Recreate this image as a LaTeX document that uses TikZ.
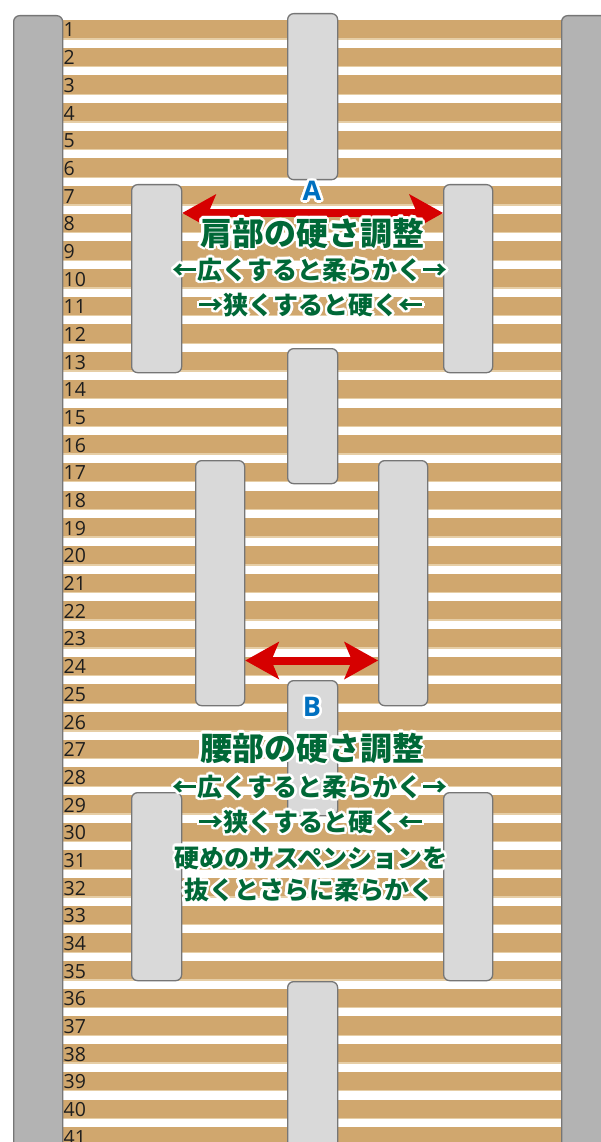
\documentclass[tikz,border=0pt]{standalone}
\usepackage{fontspec}
\usetikzlibrary{arrows.meta,calc}
\newfontfamily\jp{Noto Sans CJK JP}
\newfontfamily\numf{Open Sans}
\definecolor{slat}{RGB}{208,167,110}
\definecolor{slatedge}{RGB}{230,206,166}
\definecolor{railc}{RGB}{179,179,179}
\definecolor{postc}{RGB}{217,217,217}
\definecolor{edgec}{RGB}{118,118,118}
\definecolor{txtgreen}{RGB}{0,104,55}
\definecolor{bluec}{RGB}{0,112,192}
\definecolor{redc}{RGB}{214,0,0}
\definecolor{numc}{RGB}{30,30,30}
\newcommand\hcp[3]{\makebox[0pt][l]{\kern#1pt\raisebox{#2pt}{#3}}}
\newcommand\halo[1]{\makebox[0pt][l]{\color{white}\hcp{2.5}{0}{#1}\hcp{2.31}{0.96}{#1}\hcp{1.77}{1.77}{#1}\hcp{0.96}{2.31}{#1}\hcp{0}{2.5}{#1}\hcp{-0.96}{2.31}{#1}\hcp{-1.77}{1.77}{#1}\hcp{-2.31}{0.96}{#1}\hcp{-2.5}{0}{#1}\hcp{-2.31}{-0.96}{#1}\hcp{-1.77}{-1.77}{#1}\hcp{-0.96}{-2.31}{#1}\hcp{0}{-2.5}{#1}\hcp{0.96}{-2.31}{#1}\hcp{1.77}{-1.77}{#1}\hcp{2.31}{-0.96}{#1}}#1}
\tikzset{
  post/.style={draw=edgec, line width=1.3pt, fill=postc, rounded corners=6pt, inner sep=0pt, anchor=north west},
  rail/.style={post, fill=railc},
  numlab/.style={font=\numf\fontsize{19.5}{20}\selectfont, text=numc, inner sep=0pt, anchor=base west},
  jtitle/.style={text=txtgreen, font=\jp\bfseries\fontsize{32}{36}\selectfont, inner sep=0pt},
  jsub/.style={text=txtgreen, font=\jp\bfseries\fontsize{25}{28}\selectfont, inner sep=0pt},
  letter/.style={text=bluec, font=\numf\bfseries\fontsize{27}{30}\selectfont, inner sep=0pt},
  redhead/.tip={Stealth[length=34pt,width=38pt,inset=8pt,line width=0pt]},
  redarrow/.style={draw=redc, line width=8pt, redhead-redhead}
}
\begin{document}
\begin{tikzpicture}[x=1pt,y=-1pt]
\useasboundingbox (0,0) rectangle (600,1142);
\fill[white] (0,0) rectangle (600,1142);
% slats
\foreach \i in {0,...,40} {
  \fill[slat] (40,{20+\i*27.68}) rectangle (585,{20+\i*27.68+19.3});
  \fill[slatedge] (40,{20+\i*27.68+18.2}) rectangle (585,{20+\i*27.68+19.6});
}
% numbers
\foreach \i in {1,...,41} {
  \node[numlab] (n\i) at (63.5,{20+(\i-1)*27.68+17}) {\i};
}
% rails
\node[rail, minimum width=49, minimum height=1160] (railL) at (13,15) {};
\node[rail, minimum width=49, minimum height=1160] (railR) at (561,15) {};
% posts
\node[post, minimum width=50, minimum height=166] (c1) at (287,13) {};
\node[post, minimum width=50, minimum height=188] (aL) at (131,184) {};
\node[post, minimum width=49, minimum height=188] (aR) at (443,184) {};
\node[post, minimum width=50, minimum height=135] (c2) at (287,348) {};
\node[post, minimum width=49, minimum height=245] (wL) at (195,460) {};
\node[post, minimum width=49, minimum height=245] (wR) at (378,460) {};
\node[post, minimum width=50, minimum height=135] (c3) at (287,680) {};
\node[post, minimum width=50, minimum height=188] (lL) at (131,792) {};
\node[post, minimum width=49, minimum height=188] (lR) at (443,792) {};
\node[post, minimum width=50, minimum height=200] (c4) at (287,981) {};
% arrows
\coordinate (ya) at (0,213);
\coordinate (yb) at (0,660.5);
\draw[redarrow] (aL.east |- ya) -- (aR.west |- ya);
\draw[redarrow] (wL.east |- yb) -- (wR.west |- yb);
% texts A
\node[letter] (la) at (312,191) {\halo{A}};
\node[jtitle] (ta1) at (312,233) {\halo{肩部の硬さ調整}};
\node[jsub] (ta2) at (310,270) {\halo{←広くすると柔らかく→}};
\node[jsub] (ta3) at (311,305) {\halo{→狭くすると硬く←}};
% texts B
\node[letter] (lb) at (312,707) {\halo{B}};
\node[jtitle] (tb1) at (312,748) {\halo{腰部の硬さ調整}};
\node[jsub] (tb2) at (310,787) {\halo{←広くすると柔らかく→}};
\node[jsub] (tb3) at (311,822) {\halo{→狭くすると硬く←}};
\node[jsub] (tb4) at (311,858) {\halo{硬めのサスペンションを}};
\node[jsub] (tb5) at (309,890) {\halo{抜くとさらに柔らかく}};
\end{tikzpicture}
\end{document}
